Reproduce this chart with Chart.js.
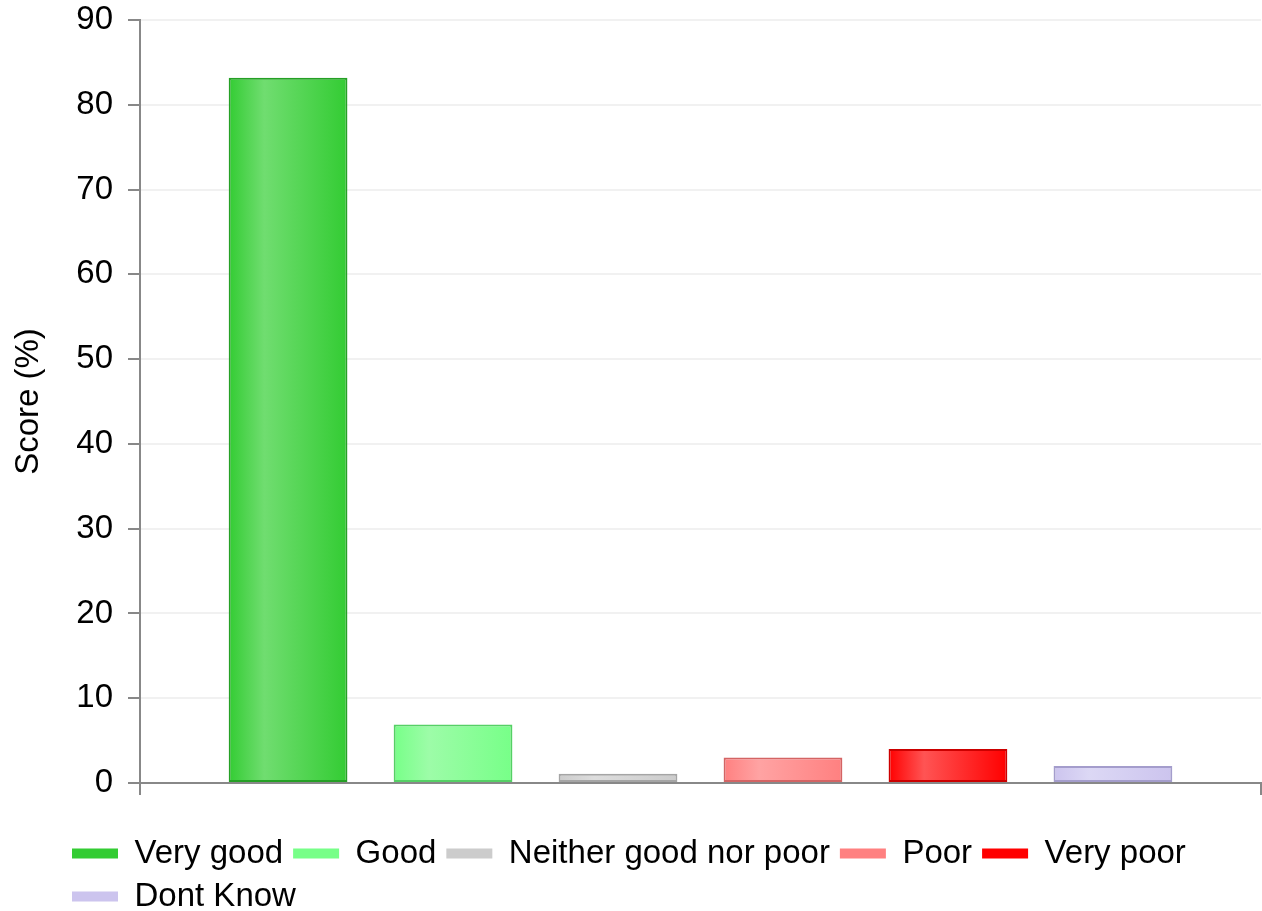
<!DOCTYPE html>
<html>
<head>
<meta charset="utf-8">
<script src="https://cdn.jsdelivr.net/npm/chart.js@4/dist/chart.umd.min.js"></script>
<style>
  html, body { margin: 0; padding: 0; background: #fff; }
  #wrap { width: 1262px; height: 911px; }
</style>
</head>
<body>
<div id="wrap"><canvas id="c" width="1262" height="911"></canvas></div>
<script>
const categories = ['Very good', 'Good', 'Neither good nor poor', 'Poor', 'Very poor', 'Dont Know'];
const values = [83.2, 6.9, 1.1, 3.0, 4.0, 2.0];
const baseColors = ['#33cc33', '#77ff88', '#cccccc', '#ff8080', '#ff0000', '#ccc4ee'];
const lightColors = ['#70dd70', '#9dfca8', '#dddddd', '#ffa3a3', '#ff5454', '#dcd8f5'];
const borderColors = ['#25a025', '#55d065', '#a5a5a5', '#d46464', '#cc0000', '#a49dcc'];
const yTicks = [0, 10, 20, 30, 40, 50, 60, 70, 80, 90];
const yTitle = 'Score (%)';

const FONT = "'Liberation Sans', Arial, sans-serif";

const datasets = categories.map((name, i) => ({
  label: name,
  data: [values[i]],
  backgroundColor: baseColors[i],
  borderColor: borderColors[i],
  borderWidth: 2,
  borderSkipped: false,
  categoryPercentage: 0.883,
  barPercentage: 0.72
}));

const gradientPlugin = {
  id: 'barGradient',
  beforeDatasetsDraw(chart) {
    const ctx = chart.ctx;
    chart.data.datasets.forEach((ds, i) => {
      const meta = chart.getDatasetMeta(i);
      meta.data.forEach(el => {
        const w = el.width;
        const x0 = el.x - w / 2;
        const g = ctx.createLinearGradient(x0, 0, x0 + w, 0);
        g.addColorStop(0, baseColors[i]);
        g.addColorStop(0.3, lightColors[i]);
        g.addColorStop(1, baseColors[i]);
        el.options = Object.assign({}, el.options, { backgroundColor: g });
      });
    });
  }
};

const legendPlace = {
  id: 'legendPlace',
  afterLayout(chart) {
    const lg = chart.legend;
    if (!lg) return;
    lg.left = 62;
    lg.top = 827;
  }
};

new Chart(document.getElementById('c'), {
  type: 'bar',
  data: { labels: [''], datasets },
  plugins: [gradientPlugin, legendPlace],
  options: {
    responsive: false,
    animation: false,
    devicePixelRatio: 1,
    layout: { padding: { left: 0, right: 1, top: 20, bottom: 0 } },
    plugins: {
      tooltip: { enabled: false },
      legend: {
        position: 'bottom',
        align: 'start',
        labels: {
          boxWidth: 46,
          boxHeight: 10,
          padding: 10,
          color: '#000',
          font: { family: FONT, size: 33 },
          generateLabels(chart) {
            return chart.data.datasets.map((ds, i) => ({
              text: ds.label,
              fillStyle: baseColors[i],
              strokeStyle: baseColors[i],
              lineWidth: 0,
              hidden: false,
              datasetIndex: i,
              fontColor: '#000'
            }));
          }
        }
      }
    },
    scales: {
      x: {
        offset: true,
        grid: {
          display: true,
          drawOnChartArea: false,
          drawTicks: true,
          tickLength: 12,
          tickColor: '#888888',
          lineWidth: 2,
          offset: true
        },
        border: { display: true, color: '#888888', width: 2 },
        ticks: { display: false },
        afterFit(scale) { scale.height = 32; scale.paddingLeft = 0; scale.paddingRight = 0; }
      },
      y: {
        min: 0,
        max: 90,
        afterBuildTicks(scale) { scale.ticks = yTicks.map(v => ({ value: v })); },
        grid: {
          color: 'rgba(0,0,0,0.055)',
          lineWidth: 2,
          tickLength: 12,
          tickColor: '#888888',
          drawTicks: true
        },
        border: { display: true, color: '#888888', width: 2 },
        ticks: {
          padding: 15,
          color: '#000',
          font: { family: FONT, size: 33 }
        },
        title: {
          display: true,
          text: yTitle,
          color: '#000',
          font: { family: FONT, size: 33 },
          padding: { top: 9, bottom: 0 }
        },
        afterFit(scale) { scale.width = 140; scale.paddingTop = 0; scale.paddingBottom = 0; }
      }
    }
  }
});
</script>
</body>
</html>
